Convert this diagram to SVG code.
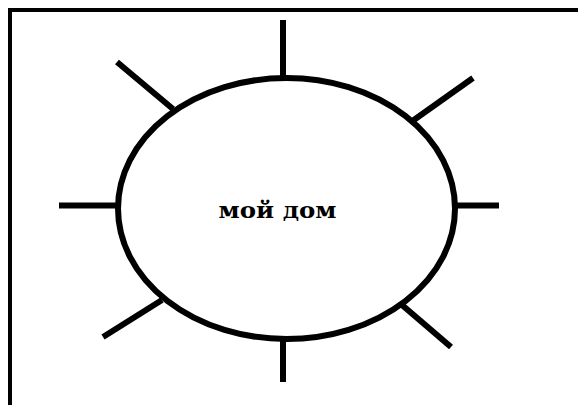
<svg xmlns="http://www.w3.org/2000/svg" width="578" height="405" viewBox="0 0 578 405">
<style>
.ln{stroke:#000;stroke-width:6;fill:none}
.lbl{font-family:"DejaVu Serif","Liberation Serif",serif;font-weight:bold;font-size:22px;fill:#000}
</style>
<rect width="578" height="405" fill="#fff"/>
<path d="M10,405 V10 H578" stroke="#000" stroke-width="4" fill="none"/>
<g id="connectors">
<line class="ln" x1="283" y1="20" x2="283" y2="78"/>
<line class="ln" x1="283" y1="339" x2="283" y2="382"/>
<line class="ln" x1="59" y1="205.5" x2="118" y2="205.5"/>
<line class="ln" x1="455" y1="205.5" x2="499" y2="205.5"/>
<line class="ln" x1="117" y1="62" x2="173" y2="109"/>
<line class="ln" x1="473" y1="78" x2="411" y2="122"/>
<line class="ln" x1="103" y1="337" x2="162" y2="300"/>
<line class="ln" x1="402" y1="305" x2="451" y2="347"/>
</g>
<g id="node-home">
<ellipse class="ln" cx="286.5" cy="208.5" rx="168.5" ry="130.5"/>
<text class="lbl" x="277.5" y="218" text-anchor="middle" textLength="118" lengthAdjust="spacingAndGlyphs">мой дом</text>
</g>
</svg>
